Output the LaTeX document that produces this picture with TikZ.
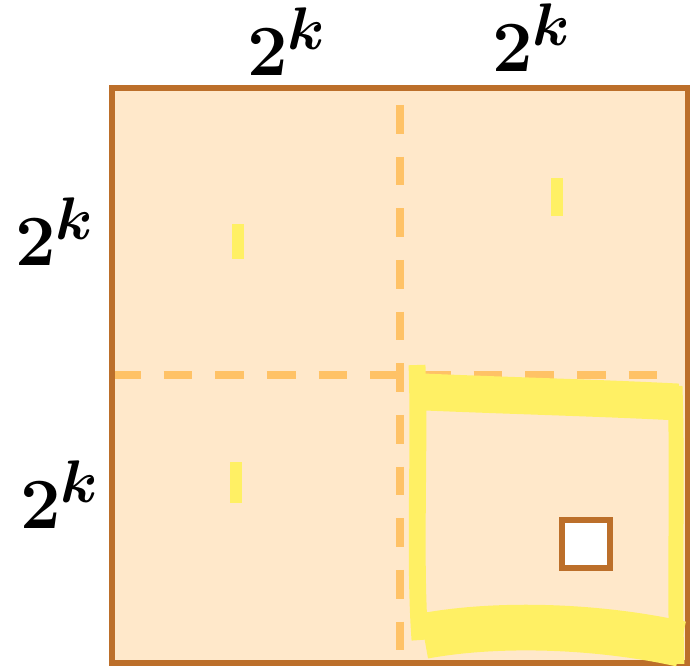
\documentclass[tikz,border=0pt]{standalone}
\usepackage{tikz}
\usetikzlibrary{calc}

\definecolor{gridedge}{HTML}{BC6F2A}
\definecolor{gridfill}{HTML}{FFE8CA}
\definecolor{halfline}{HTML}{FFC266}
\definecolor{marker}{HTML}{FFF064}

% one picture pixel is 0.02cm = 0.567pt
\tikzset{
  sidelabel/.style={font=\Huge\boldmath, scale=1.65, inner sep=0pt},
  halfcut/.style={halfline, line width=5.1pt, dash pattern=on 16.4pt off 13pt},
  tick/.style={marker, line width=6.8pt},
  hilite/.style={marker, line join=round}
}

\begin{document}
\begin{tikzpicture}[x=0.02cm,y=-0.02cm,baseline=(current bounding box.center)]
  \useasboundingbox (0,0) rectangle (690,669);
  \coordinate (TL) at (112,88);
  \coordinate (BR) at (688,663);
  \coordinate (M) at (400,375);
  % board
  \fill[gridfill] (TL) rectangle (BR);
  \draw[halfcut] (400,105) -- (400,663);
  \draw[halfcut] (112,375) -- (670,375);
  \draw[gridedge, line width=2.9pt] (TL) rectangle (BR);
  % small marks in the other quarters
  \draw[tick] (238,224) -- (238,259);
  \draw[tick] (557,178) -- (557,216);
  \draw[tick] (236,462) -- (236,503);
  % marked quarter
  \draw[hilite, line width=9.6pt] (417,365) .. controls (420,450) and (414,560) .. (420,640);
  \draw[hilite, line width=21pt] (424,392) .. controls (520,396) and (600,398) .. (678,402);
  \draw[hilite, line width=8.5pt] (675,386) .. controls (678,480) and (674,580) .. (677,664);
  \draw[hilite, line width=26pt] (424,636) .. controls (500,622) and (600,626) .. (681,644);
  % missing cell
  \draw[gridedge, fill=white, line width=2.9pt] (562,520) rectangle (610,568);
  % sizes
  \node[sidelabel] (top1) at (287,42) {$2^{k}$};
  \node[sidelabel] (top2) at (532,38) {$2^{k}$};
  \node[sidelabel] (left1) at (55,232) {$2^{k}$};
  \node[sidelabel] (left2) at (60,495) {$2^{k}$};
\end{tikzpicture}
\end{document}
